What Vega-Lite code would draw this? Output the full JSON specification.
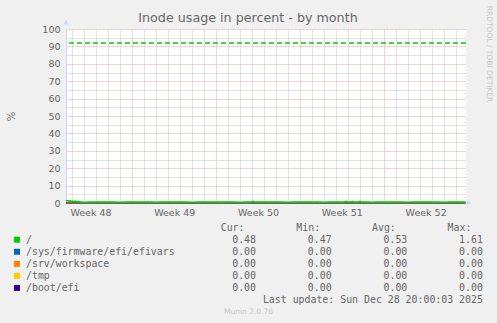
{
  "$schema": "https://vega.github.io/schema/vega-lite/v6.json",
  "width": 400,
  "height": 174,
  "autosize": {"type": "none"},
  "padding": {"left": 66, "top": 29, "right": 31, "bottom": 120},
  "background": "#f0f0f0",
  "config": {
    "view": {"fill": "#ffffff", "stroke": null},
    "font": "DejaVu Sans",
    "axis": {
      "labelFont": "DejaVu Sans",
      "labelFontSize": 9.5,
      "labelColor": "#666666",
      "titleFont": "DejaVu Sans",
      "titleFontWeight": "normal",
      "titleColor": "#666666",
      "ticks": false,
      "domain": false,
      "grid": false,
      "labels": false,
      "gridWidth": 1
    }
  },
  "title": {
    "text": "Inode usage in percent - by month",
    "font": "DejaVu Sans",
    "fontSize": 12.7,
    "fontWeight": "normal",
    "color": "#666666",
    "anchor": "middle",
    "frame": "group",
    "dx": -18,
    "baseline": "alphabetic",
    "offset": -29.5
  },
  "datasets": {
    "usage": [
      {"time": "2025-11-25T11:00:00", "value": 1.61},
      {"time": "2025-11-25T13:00:00", "value": 1.2},
      {"time": "2025-11-25T15:00:00", "value": 1.4},
      {"time": "2025-11-25T17:00:00", "value": 1.0},
      {"time": "2025-11-25T19:30:00", "value": 1.25},
      {"time": "2025-11-25T22:00:00", "value": 0.9},
      {"time": "2025-11-26T00:30:00", "value": 1.15},
      {"time": "2025-11-26T03:00:00", "value": 0.8},
      {"time": "2025-11-26T06:00:00", "value": 1.0},
      {"time": "2025-11-26T09:00:00", "value": 0.7},
      {"time": "2025-11-26T12:00:00", "value": 0.85},
      {"time": "2025-11-26T15:00:00", "value": 0.49},
      {"time": "2025-11-27T00:00:00", "value": 0.47},
      {"time": "2025-11-27T12:00:00", "value": 0.48},
      {"time": "2025-11-28T00:00:00", "value": 0.48},
      {"time": "2025-11-28T12:00:00", "value": 0.49},
      {"time": "2025-11-29T00:00:00", "value": 0.48},
      {"time": "2025-11-29T12:00:00", "value": 0.48},
      {"time": "2025-11-30T00:00:00", "value": 0.47},
      {"time": "2025-11-30T12:00:00", "value": 0.48},
      {"time": "2025-12-01T00:00:00", "value": 0.48},
      {"time": "2025-12-01T12:00:00", "value": 0.49},
      {"time": "2025-12-02T00:00:00", "value": 0.48},
      {"time": "2025-12-02T12:00:00", "value": 0.48},
      {"time": "2025-12-03T00:00:00", "value": 0.47},
      {"time": "2025-12-03T12:00:00", "value": 0.48},
      {"time": "2025-12-04T00:00:00", "value": 0.48},
      {"time": "2025-12-04T12:00:00", "value": 0.49},
      {"time": "2025-12-05T00:00:00", "value": 0.48},
      {"time": "2025-12-05T12:00:00", "value": 0.48},
      {"time": "2025-12-06T00:00:00", "value": 0.47},
      {"time": "2025-12-06T12:00:00", "value": 0.48},
      {"time": "2025-12-07T00:00:00", "value": 0.48},
      {"time": "2025-12-07T12:00:00", "value": 0.48},
      {"time": "2025-12-08T00:00:00", "value": 0.48},
      {"time": "2025-12-08T12:00:00", "value": 0.49},
      {"time": "2025-12-09T00:00:00", "value": 0.48},
      {"time": "2025-12-09T12:00:00", "value": 0.48},
      {"time": "2025-12-10T00:00:00", "value": 0.47},
      {"time": "2025-12-10T12:00:00", "value": 0.48},
      {"time": "2025-12-10T22:00:00", "value": 0.48},
      {"time": "2025-12-11T02:00:00", "value": 1.0},
      {"time": "2025-12-11T06:00:00", "value": 0.48},
      {"time": "2025-12-11T12:00:00", "value": 0.48},
      {"time": "2025-12-12T00:00:00", "value": 0.48},
      {"time": "2025-12-12T12:00:00", "value": 0.49},
      {"time": "2025-12-13T00:00:00", "value": 0.48},
      {"time": "2025-12-13T12:00:00", "value": 0.48},
      {"time": "2025-12-14T00:00:00", "value": 0.47},
      {"time": "2025-12-14T12:00:00", "value": 0.48},
      {"time": "2025-12-15T00:00:00", "value": 0.48},
      {"time": "2025-12-15T12:00:00", "value": 0.49},
      {"time": "2025-12-16T00:00:00", "value": 0.48},
      {"time": "2025-12-16T12:00:00", "value": 0.48},
      {"time": "2025-12-17T00:00:00", "value": 0.47},
      {"time": "2025-12-17T12:00:00", "value": 0.48},
      {"time": "2025-12-18T00:00:00", "value": 0.48},
      {"time": "2025-12-18T12:00:00", "value": 0.48},
      {"time": "2025-12-18T18:00:00", "value": 0.48},
      {"time": "2025-12-18T21:00:00", "value": 0.95},
      {"time": "2025-12-19T00:00:00", "value": 0.48},
      {"time": "2025-12-19T06:00:00", "value": 0.49},
      {"time": "2025-12-19T09:00:00", "value": 0.95},
      {"time": "2025-12-19T12:00:00", "value": 0.48},
      {"time": "2025-12-19T20:00:00", "value": 0.48},
      {"time": "2025-12-20T00:00:00", "value": 0.95},
      {"time": "2025-12-20T04:00:00", "value": 0.48},
      {"time": "2025-12-20T12:00:00", "value": 0.48},
      {"time": "2025-12-21T00:00:00", "value": 0.47},
      {"time": "2025-12-21T12:00:00", "value": 0.48},
      {"time": "2025-12-22T00:00:00", "value": 0.48},
      {"time": "2025-12-22T12:00:00", "value": 0.49},
      {"time": "2025-12-23T00:00:00", "value": 0.48},
      {"time": "2025-12-23T12:00:00", "value": 0.48},
      {"time": "2025-12-24T00:00:00", "value": 0.47},
      {"time": "2025-12-24T12:00:00", "value": 0.48},
      {"time": "2025-12-25T00:00:00", "value": 0.48},
      {"time": "2025-12-25T12:00:00", "value": 0.48},
      {"time": "2025-12-26T00:00:00", "value": 0.48},
      {"time": "2025-12-26T12:00:00", "value": 0.49},
      {"time": "2025-12-27T00:00:00", "value": 0.47},
      {"time": "2025-12-27T12:00:00", "value": 0.48},
      {"time": "2025-12-28T00:00:00", "value": 0.48},
      {"time": "2025-12-28T12:00:00", "value": 0.48},
      {"time": "2025-12-28T20:00:00", "value": 0.48}
    ],
    "zero": [
      {"series": "/sys/firmware/efi/efivars", "time": "2025-11-25T11:00:00", "value": 0},
      {"series": "/sys/firmware/efi/efivars", "time": "2025-12-28T20:00:00", "value": 0},
      {"series": "/srv/workspace", "time": "2025-11-25T11:00:00", "value": 0},
      {"series": "/srv/workspace", "time": "2025-12-28T20:00:00", "value": 0},
      {"series": "/tmp", "time": "2025-11-25T11:00:00", "value": 0},
      {"series": "/tmp", "time": "2025-12-28T20:00:00", "value": 0},
      {"series": "/boot/efi", "time": "2025-11-25T11:00:00", "value": 0},
      {"series": "/boot/efi", "time": "2025-12-28T20:00:00", "value": 0}
    ],
    "limits": [{"series": "/", "warning": 92}],
    "legend": [
      {"series": "/", "row": 0, "cur": 0.48, "min": 0.47, "avg": 0.53, "max": 1.61},
      {"series": "/sys/firmware/efi/efivars", "row": 1, "cur": 0, "min": 0, "avg": 0, "max": 0},
      {"series": "/srv/workspace", "row": 2, "cur": 0, "min": 0, "avg": 0, "max": 0},
      {"series": "/tmp", "row": 3, "cur": 0, "min": 0, "avg": 0, "max": 0},
      {"series": "/boot/efi", "row": 4, "cur": 0, "min": 0, "avg": 0, "max": 0}
    ],
    "headers": [
      {"stat": "cur", "label": "Cur:"},
      {"stat": "min", "label": "Min:"},
      {"stat": "avg", "label": "Avg:"},
      {"stat": "max", "label": "Max:"}
    ],
    "meta": [{"text": "Last update: Sun Dec 28 20:00:03 2025"}]
  },
  "layer": [
    {
      "data": {"name": "zero"},
      "mark": {"type": "line", "strokeWidth": 1},
      "encoding": {
        "x": {
          "field": "time", "type": "temporal",
          "scale": {"domain": [{"year": 2025, "month": 11, "date": 25, "hours": 11}, {"year": 2025, "month": 12, "date": 28, "hours": 21}]},
          "axis": {
            "orient": "bottom", "title": null,
            "values": [
              {"year": 2025, "month": 12, "date": 1},
              {"year": 2025, "month": 12, "date": 8},
              {"year": 2025, "month": 12, "date": 15},
              {"year": 2025, "month": 12, "date": 22}
            ],
            "grid": true, "gridColor": "#eca6a6", "gridDash": [1, 1]
          }
        },
        "y": {
          "field": "value", "type": "quantitative",
          "scale": {"domain": [0, 100], "nice": false, "zero": true},
          "axis": {
            "orient": "left",
            "values": [0, 10, 20, 30, 40, 50, 60, 70, 80, 90, 100],
            "grid": true, "gridColor": "#eca6a6", "gridDash": [1, 1],
            "labels": true, "labelPadding": 6,
            "domain": true, "domainColor": "#cfd6f8",
            "title": "%", "titleX": -55, "titleY": 87, "titleAngle": 270,
            "titleBaseline": "middle", "titleAlign": "center", "titleFontSize": 10
          }
        },
        "color": {
          "field": "series", "type": "nominal",
          "scale": {"domain": ["/sys/firmware/efi/efivars", "/srv/workspace", "/tmp", "/boot/efi"], "range": ["#0066b3", "#ff8000", "#ffcc00", "#330099"]},
          "legend": null
        }
      }
    },
    {
      "data": {"name": "usage"},
      "mark": {"type": "line", "strokeWidth": 1.6, "color": "#00cc00"},
      "encoding": {
        "x": {
          "field": "time", "type": "temporal",
          "scale": {"domain": [{"year": 2025, "month": 11, "date": 25, "hours": 11}, {"year": 2025, "month": 12, "date": 28, "hours": 21}]},
          "axis": {
            "orient": "bottom", "title": null,
            "values": [
              {"year": 2025, "month": 11, "date": 26},
              {"year": 2025, "month": 11, "date": 27},
              {"year": 2025, "month": 11, "date": 28},
              {"year": 2025, "month": 11, "date": 29},
              {"year": 2025, "month": 11, "date": 30},
              {"year": 2025, "month": 12, "date": 2},
              {"year": 2025, "month": 12, "date": 3},
              {"year": 2025, "month": 12, "date": 4},
              {"year": 2025, "month": 12, "date": 5},
              {"year": 2025, "month": 12, "date": 6},
              {"year": 2025, "month": 12, "date": 7},
              {"year": 2025, "month": 12, "date": 9},
              {"year": 2025, "month": 12, "date": 10},
              {"year": 2025, "month": 12, "date": 11},
              {"year": 2025, "month": 12, "date": 12},
              {"year": 2025, "month": 12, "date": 13},
              {"year": 2025, "month": 12, "date": 14},
              {"year": 2025, "month": 12, "date": 16},
              {"year": 2025, "month": 12, "date": 17},
              {"year": 2025, "month": 12, "date": 18},
              {"year": 2025, "month": 12, "date": 19},
              {"year": 2025, "month": 12, "date": 20},
              {"year": 2025, "month": 12, "date": 21},
              {"year": 2025, "month": 12, "date": 23},
              {"year": 2025, "month": 12, "date": 24},
              {"year": 2025, "month": 12, "date": 25},
              {"year": 2025, "month": 12, "date": 26},
              {"year": 2025, "month": 12, "date": 27},
              {"year": 2025, "month": 12, "date": 28}
            ],
            "grid": true, "gridColor": "#c6c6c6", "gridDash": [1, 1]
          }
        },
        "y": {
          "field": "value", "type": "quantitative",
          "scale": {"domain": [0, 100], "nice": false},
          "axis": {
            "orient": "left", "title": null,
            "values": [5, 15, 25, 35, 45, 55, 65, 75, 85, 95],
            "grid": true, "gridColor": "#c6c6c6", "gridDash": [1, 1]
          }
        }
      }
    },
    {
      "data": {"name": "limits"},
      "mark": {"type": "rule", "color": "#00cc00", "strokeDash": [5, 3], "strokeWidth": 1.5},
      "encoding": {
        "y": {
          "field": "warning", "type": "quantitative",
          "scale": {"domain": [0, 100], "nice": false},
          "axis": {
            "orient": "right",
            "title": "RRDTOOL / TOBI OETIKER", "titleX": 22, "titleY": 24.5, "titleAngle": 90,
            "titleBaseline": "middle", "titleAlign": "center", "titleFontSize": 7.5, "titleColor": "#c8c8c8"
          }
        }
      }
    },
    {
      "data": {"name": "limits"},
      "mark": {"type": "point", "shape": "triangle-right", "filled": true, "color": "#cfd6f8", "size": 30, "opacity": 1},
      "encoding": {
        "x": {
          "datum": {"year": 2025, "month": 12, "date": 29, "hours": 3}, "type": "temporal",
          "scale": {"domain": [{"year": 2025, "month": 11, "date": 25, "hours": 11}, {"year": 2025, "month": 12, "date": 28, "hours": 21}]},
          "axis": {
            "orient": "bottom",
            "values": [
              {"year": 2025, "month": 11, "date": 27, "hours": 12},
              {"year": 2025, "month": 12, "date": 4, "hours": 12},
              {"year": 2025, "month": 12, "date": 11, "hours": 12},
              {"year": 2025, "month": 12, "date": 18, "hours": 12},
              {"year": 2025, "month": 12, "date": 25, "hours": 12}
            ],
            "labels": true, "labelPadding": 4.5,
            "labelExpr": "'Week ' + timeFormat(datum.value, '%V')",
            "domain": true, "domainColor": "#cfd6f8",
            "title": "Munin 2.0.76", "titleX": 182, "titleY": 108.5,
            "titleBaseline": "middle", "titleAlign": "center", "titleFontSize": 7.5, "titleColor": "#c8c8c8"
          }
        },
        "y": {"datum": 0, "type": "quantitative", "scale": {"domain": [0, 100], "nice": false}, "axis": null}
      }
    },
    {
      "data": {"name": "limits"},
      "mark": {"type": "point", "shape": "triangle-up", "filled": true, "color": "#cfd6f8", "size": 30, "opacity": 1},
      "encoding": {
        "x": {
          "datum": {"year": 2025, "month": 11, "date": 25, "hours": 11}, "type": "temporal",
          "scale": {"domain": [{"year": 2025, "month": 11, "date": 25, "hours": 11}, {"year": 2025, "month": 12, "date": 28, "hours": 21}]},
          "axis": null
        },
        "y": {"datum": 104, "type": "quantitative", "scale": {"domain": [0, 100], "nice": false}, "axis": null}
      }
    },
    {
      "data": {"name": "legend"},
      "mark": {"type": "point", "shape": "square", "filled": true, "size": 36, "opacity": 1},
      "encoding": {
        "x": {"datum": "swatch", "type": "nominal", "scale": {"type": "point", "domain": ["swatch", "label"], "range": [-49, -40], "padding": 0}, "axis": null},
        "y": {"field": "row", "type": "quantitative", "scale": {"domain": [0, 5], "range": [210.7, 271], "nice": false, "zero": false}, "axis": null},
        "color": {
          "field": "series", "type": "nominal",
          "scale": {"domain": ["/", "/sys/firmware/efi/efivars", "/srv/workspace", "/tmp", "/boot/efi"], "range": ["#00cc00", "#0066b3", "#ff8000", "#ffcc00", "#330099"]},
          "legend": null
        }
      }
    },
    {
      "data": {"name": "legend"},
      "mark": {"type": "text", "align": "left", "baseline": "middle", "font": "DejaVu Sans Mono", "fontSize": 9.9, "color": "#666666"},
      "encoding": {
        "x": {"datum": "label", "type": "nominal", "scale": {"type": "point", "domain": ["swatch", "label"], "range": [-49, -40], "padding": 0}, "axis": null},
        "y": {"field": "row", "type": "quantitative", "scale": {"domain": [0, 5], "range": [210.7, 271], "nice": false, "zero": false}, "axis": null},
        "text": {"field": "series", "type": "nominal"}
      }
    },
    {
      "data": {"name": "legend"},
      "transform": [{"fold": ["cur", "min", "avg", "max"], "as": ["stat", "v"]}],
      "mark": {"type": "text", "align": "right", "baseline": "middle", "font": "DejaVu Sans Mono", "fontSize": 9.9, "color": "#666666"},
      "encoding": {
        "x": {"field": "stat", "type": "nominal", "scale": {"type": "point", "domain": ["cur", "min", "avg", "max"], "range": [190, 416.9], "padding": 0}, "axis": null},
        "y": {"field": "row", "type": "quantitative", "scale": {"domain": [0, 5], "range": [210.7, 271], "nice": false, "zero": false}, "axis": null},
        "text": {"field": "v", "type": "quantitative", "format": ".2f"}
      }
    },
    {
      "data": {"name": "headers"},
      "mark": {"type": "text", "align": "right", "baseline": "middle", "font": "DejaVu Sans Mono", "fontSize": 9.9, "color": "#666666", "dx": -11.5},
      "encoding": {
        "x": {"field": "stat", "type": "nominal", "scale": {"type": "point", "domain": ["cur", "min", "avg", "max"], "range": [190, 416.9], "padding": 0}, "axis": null},
        "y": {"datum": -1, "type": "quantitative", "scale": {"domain": [0, 5], "range": [210.7, 271], "nice": false, "zero": false}, "axis": null},
        "text": {"field": "label", "type": "nominal"}
      }
    },
    {
      "data": {"name": "meta"},
      "mark": {"type": "text", "align": "right", "baseline": "middle", "font": "DejaVu Sans Mono", "fontSize": 9.9, "color": "#666666"},
      "encoding": {
        "x": {"datum": "max", "type": "nominal", "scale": {"type": "point", "domain": ["cur", "min", "avg", "max"], "range": [190, 416.9], "padding": 0}, "axis": null},
        "y": {"datum": 5, "type": "quantitative", "scale": {"domain": [0, 5], "range": [210.7, 271], "nice": false, "zero": false}, "axis": null},
        "text": {"field": "text", "type": "nominal"}
      }
    }
  ],
  "resolve": {"scale": {"x": "independent", "y": "independent", "color": "independent"}}
}
